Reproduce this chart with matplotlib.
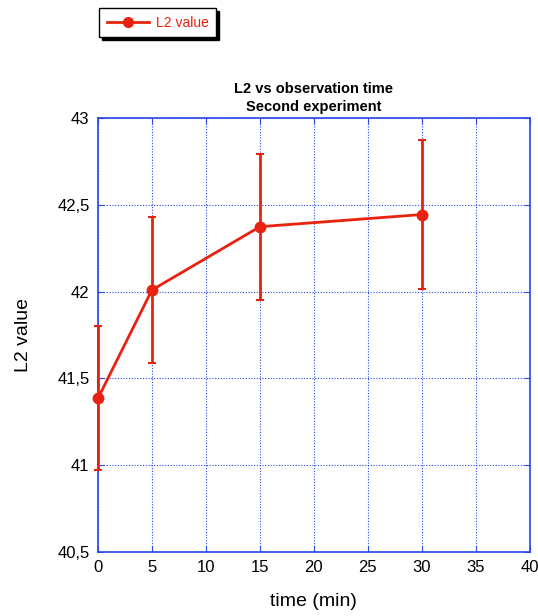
import numpy as np
import matplotlib.pyplot as plt
from matplotlib.lines import Line2D
from matplotlib.ticker import FuncFormatter, MultipleLocator

plt.rcParams['font.family'] = ['Liberation Sans', 'DejaVu Sans']

time_min = [0, 5, 15, 30]
l2_value = [41.385, 42.01, 42.375, 42.445]
l2_err = [0.415, 0.42, 0.42, 0.43]

red = '#e8220e'
blue = '#2a48e6'

fig = plt.figure(figsize=(5.38, 6.16), dpi=100)
ax = fig.add_axes([0.182, 0.104, 0.803, 0.704])

ax.errorbar(time_min, l2_value, yerr=l2_err, color=red, lw=2, marker='o',
            markersize=7.5, capsize=3, capthick=1.5, elinewidth=2,
            clip_on=False, zorder=5)

ax.set_xlim(0, 40)
ax.set_ylim(40.5, 43)
ax.xaxis.set_major_locator(MultipleLocator(5))
ax.yaxis.set_major_locator(MultipleLocator(0.5))
ax.yaxis.set_major_formatter(FuncFormatter(lambda v, p: f"{v:g}".replace('.', ',')))

ax.grid(True, color=blue, linestyle=(0, (1, 1.5)), lw=0.8)
for s in ax.spines.values():
    s.set_color(blue)
    s.set_linewidth(1.2)
ax.tick_params(direction='in', length=4, color=blue, top=True, right=True,
               labelsize=12, pad=6)

ax.set_xlabel('time (min)', fontsize=14, labelpad=13)
ax.set_ylabel('L2 value', fontsize=14, labelpad=18)
ax.set_title('L2 vs observation time\nSecond experiment', fontsize=10.5,
             fontweight='bold', linespacing=1.35, pad=5)

handle = Line2D([], [], color=red, lw=2, marker='o', markersize=7)
leg = fig.legend(handles=[handle], labels=['L2 value'], loc='upper left',
                 bbox_to_anchor=(0.172, 0.998), frameon=True, fancybox=False,
                 shadow={'color': 'black', 'alpha': 1}, fontsize=10,
                 handlelength=3.0, borderpad=0.55, handletextpad=0.5,
                 labelcolor=red)
leg.get_frame().set_edgecolor('black')
leg.get_frame().set_linewidth(1)

plt.savefig('out.png', dpi=100)
